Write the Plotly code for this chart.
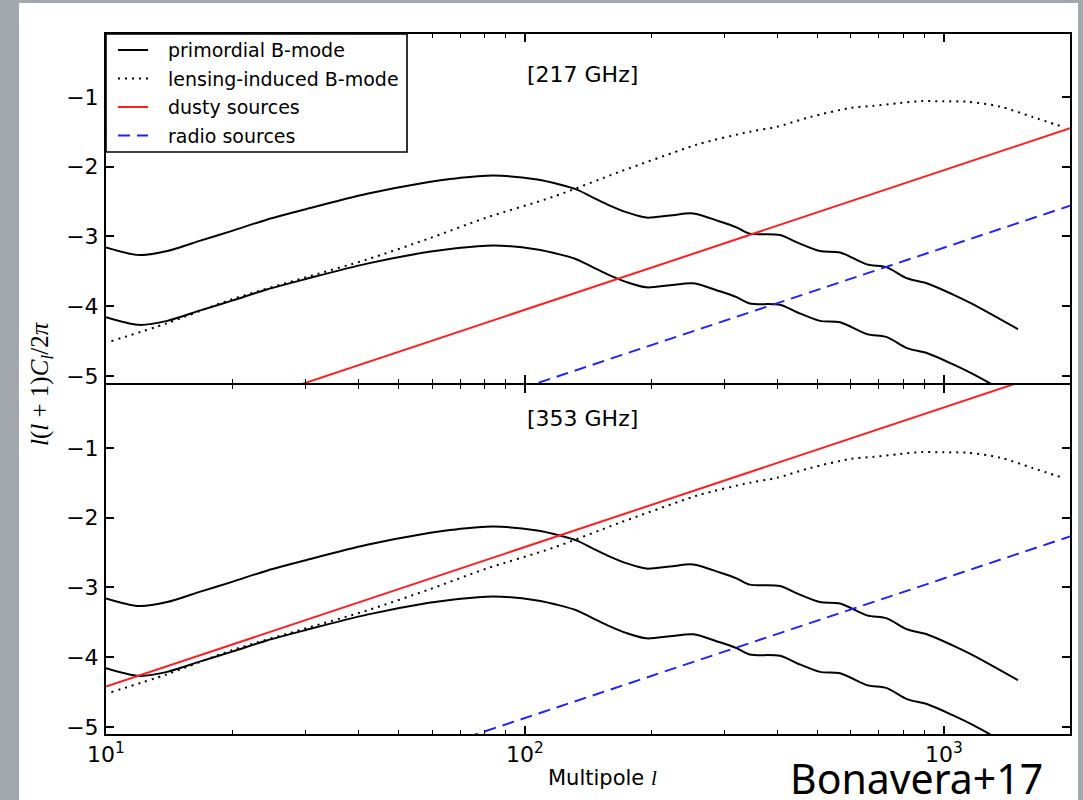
import numpy as np
import plotly.graph_objects as go
from plotly.subplots import make_subplots

# ---------------- data (log10 of l(l+1)C_l/2pi) ----------------
ell_prim = [10, 12, 14, 16.8, 20, 24.2, 30, 42, 59, 67, 84, 107, 121, 133, 145, 157,
            175, 195, 222, 252, 292, 320, 344, 406, 446, 506, 565, 655, 731, 816,
            910, 1049, 1172, 1503]
prim_r01 = [-3.157, -3.267, -3.21, -3.06, -2.92, -2.76, -2.61, -2.39, -2.22, -2.175,
            -2.129, -2.186, -2.257, -2.33, -2.44, -2.54, -2.655, -2.73, -2.70, -2.671,
            -2.786, -2.87, -2.96, -2.98, -3.086, -3.21, -3.23, -3.40, -3.443, -3.60,
            -3.671, -3.83, -3.97, -4.33]
prim_r001 = [-4.157, -4.267, -4.21, -4.06, -3.92, -3.76, -3.61, -3.39, -3.22, -3.175,
             -3.129, -3.186, -3.257, -3.33, -3.44, -3.54, -3.655, -3.73, -3.70, -3.671,
             -3.786, -3.87, -3.96, -3.98, -4.086, -4.21, -4.23, -4.40, -4.443, -4.60,
             -4.671, -4.83, -4.97, -5.33]

ell_lens = [10.3, 14, 20, 30, 42, 59, 81, 117, 169, 244, 262, 344, 399, 479, 597, 676,
            785, 886, 1000, 1135, 1362, 1629, 1923]
lensing = [-4.50, -4.243, -3.90, -3.586, -3.33, -3.03, -2.73, -2.43, -2.07, -1.73, -1.67,
           -1.50, -1.43, -1.29, -1.16, -1.13, -1.09, -1.06, -1.065, -1.07, -1.14, -1.29, -1.43]

ell_src = [10, 2000]
dusty_217 = [-6.05, -1.45]
radio_217 = [-7.16, -2.56]
dusty_353 = [-4.42, 0.18]
radio_353 = [-6.87, -2.27]

x_tickvals = [10, 100, 1000]
x_ticktext = ["10<sup>1</sup>", "10<sup>2</sup>", "10<sup>3</sup>"]
x_minor = [20, 30, 40, 50, 60, 70, 80, 90, 200, 300, 400, 500, 600, 700, 800, 900, 2000]
y_tickvals = [-5, -4, -3, -2, -1]
y_ticktext = ["\u22125", "\u22124", "\u22123", "\u22122", "\u22121"]

panel_labels = ["[217 GHz]", "[353 GHz]"]
legend_names = ["primordial B-mode", "lensing-induced B-mode", "dusty sources", "radio sources"]

# ---------------- styles ----------------
LW = 2
DOT = "2px,5px"
DASH = "12px,7px"
RED = "#ff1f1f"
BLUE = "#1f1fff"

fig = make_subplots(rows=2, cols=1, vertical_spacing=0)

def add_panel(row, dusty, radio):
    fig.add_trace(go.Scatter(x=ell_prim, y=prim_r01, mode="lines", name=legend_names[0],
                             line=dict(color="black", width=LW, shape="spline", smoothing=0.8)),
                  row=row, col=1)
    fig.add_trace(go.Scatter(x=ell_prim, y=prim_r001, mode="lines", name=legend_names[0],
                             line=dict(color="black", width=LW, shape="spline", smoothing=0.8)),
                  row=row, col=1)
    fig.add_trace(go.Scatter(x=ell_lens, y=lensing, mode="lines", name=legend_names[1],
                             line=dict(color="black", width=2, dash=DOT, shape="spline",
                                       smoothing=0.8)), row=row, col=1)
    fig.add_trace(go.Scatter(x=ell_src, y=dusty, mode="lines", name=legend_names[2],
                             line=dict(color=RED, width=LW)), row=row, col=1)
    fig.add_trace(go.Scatter(x=ell_src, y=radio, mode="lines", name=legend_names[3],
                             line=dict(color=BLUE, width=LW, dash=DASH)), row=row, col=1)

add_panel(1, dusty_217, radio_217)
add_panel(2, dusty_353, radio_353)

xcommon = dict(type="log", range=[1, np.log10(2000)], showline=True, linecolor="black",
               linewidth=2, mirror="allticks", ticks="inside", ticklen=8, tickwidth=1.6,
               tickcolor="black", tickvals=x_tickvals, ticktext=x_ticktext,
               showgrid=False, zeroline=False,
               tickfont=dict(size=22, color="black"),
               minor=dict(tickvals=x_minor, ticks="inside", ticklen=4, tickwidth=1.3,
                          tickcolor="black", showgrid=False))
ycommon = dict(range=[-5.1, -0.1], showline=True, linecolor="black", linewidth=2,
               mirror="allticks", ticks="inside", ticklen=8, tickwidth=1.6, tickcolor="black",
               tickvals=y_tickvals, ticktext=y_ticktext, showgrid=False, zeroline=False,
               tickfont=dict(size=22, color="black"), ticklabelstandoff=1)

fig.update_xaxes(**xcommon)
fig.update_yaxes(**ycommon)
fig.update_xaxes(showticklabels=False, row=1, col=1)

W, H = 1083, 800
L, R, T, B = 106, 13, 34, 66
pw, ph = W - L - R, H - T - B
def px(xp):
    return (xp - L) / pw
def py(yp):
    return (H - B - yp) / ph

fig.update_layout(yaxis=dict(domain=[0.5 + 1.0 / ph, 1.0]),
                  yaxis2=dict(domain=[0.0, 0.5 - 1.0 / ph]))

def note(text, x, y, size, **kw):
    d = dict(text=text, x=px(x), y=py(y), xref="paper", yref="paper", showarrow=False,
             xanchor="center", yanchor="middle", font=dict(size=size, color="black"))
    fam = kw.pop("family", None)
    d.update(kw)
    if fam:
        d["font"]["family"] = fam
    return d

annotations = [
    note(panel_labels[0], 582, 74, 22),
    note(panel_labels[1], 582, 418, 22),
    note("<i>l</i>(<i>l</i> + 1)<i>C<sub>l</sub></i>/2<i>\u03c0</i>", 41, 384, 25,
         textangle=-90, family="Liberation Serif"),
    note("Multipole <i><span style='font-family:Liberation Serif'>l</span></i>", 602, 778, 21),
    note("Bonavera+17", 916, 778, 41, family="Noto Sans"),
]

# manual legend (matplotlib-style box in the upper-left corner)
leg_y = [50, 78.5, 107, 135.5]
leg_styles = [dict(color="black", width=2), dict(color="black", width=2, dash=DOT),
              dict(color=RED, width=2), dict(color=BLUE, width=2, dash=DASH)]
shapes = [dict(type="rect", xref="paper", yref="paper", x0=px(19), x1=px(1078),
               y0=py(800), y1=py(3), fillcolor="white", line=dict(width=0), layer="below"),
          dict(type="rect", xref="paper", yref="paper", x0=px(106), x1=px(407),
               y0=py(152), y1=py(34), fillcolor="white", line=dict(color="black", width=1.6),
               layer="above")]
for yy, st, name in zip(leg_y, leg_styles, legend_names):
    shapes.append(dict(type="line", xref="paper", yref="paper", x0=px(118), x1=px(148),
                       y0=py(yy), y1=py(yy), line=st, layer="above"))
    annotations.append(dict(text=name, x=px(166), y=py(yy), xref="paper", yref="paper",
                            showarrow=False, xanchor="left", yanchor="middle",
                            font=dict(size=19, color="black")))

fig.update_layout(
    width=W, height=H,
    margin=dict(l=L, r=R, t=T, b=B),
    paper_bgcolor="#a3a8ae",
    plot_bgcolor="white",
    font=dict(family="DejaVu Sans", color="black"),
    showlegend=False,
    annotations=annotations,
    shapes=shapes,
)

fig.write_html("out.html")
